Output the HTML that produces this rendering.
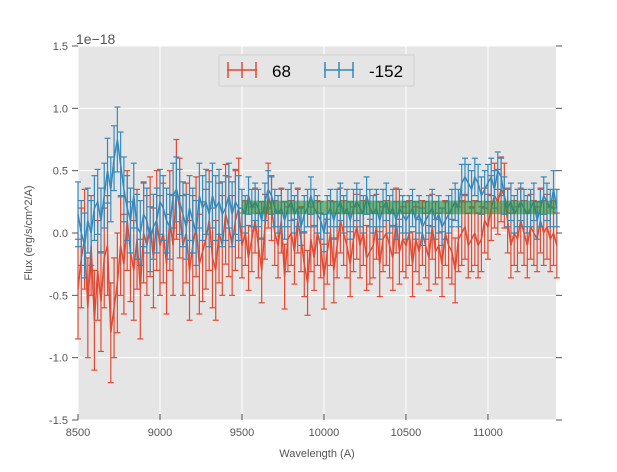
<!DOCTYPE html>
<html><head><meta charset="utf-8"><style>
body{margin:0;background:#fff;font-family:"Liberation Sans","DejaVu Sans",sans-serif}
svg text{font-family:"Liberation Sans","DejaVu Sans",sans-serif}
</style></head><body>
<svg id="chart" width="617" height="467" xmlns="http://www.w3.org/2000/svg">
<rect x="0" y="0" width="617" height="467" fill="#fff"/>
<rect x="78" y="46" width="478" height="374" fill="#e5e5e5"/>
<g id="grid"></g><g id="band"></g><g id="series"></g><g id="axes"></g>
<text x="76" y="44" font-size="14" fill="#555">1e−18</text>
<text x="317" y="457" font-size="11" fill="#555" text-anchor="middle">Wavelength (A)</text>
<text transform="translate(32,233) rotate(-90)" font-size="11" fill="#555" text-anchor="middle">Flux (erg/s/cm^2/A)</text>
<g>
<rect x="219" y="55" width="195" height="31" fill="#e5e5e5" stroke="#ccc" stroke-width="0.8"/>
<g>
<line x1="227" y1="70" x2="257" y2="70" stroke="#e24a33" stroke-width="1.5"/>
<line x1="242" y1="62" x2="242" y2="78" stroke="#e24a33" stroke-width="1.5"/>
<line x1="228" y1="62" x2="228" y2="78" stroke="#e24a33" stroke-width="1.5"/>
<line x1="256" y1="62" x2="256" y2="78" stroke="#e24a33" stroke-width="1.5"/>
<text x="272" y="77" font-size="17" fill="#000">68</text></g>
<g>
<line x1="324" y1="70" x2="354" y2="70" stroke="#348abd" stroke-width="1.5"/>
<line x1="339" y1="62" x2="339" y2="78" stroke="#348abd" stroke-width="1.5"/>
<line x1="325" y1="62" x2="325" y2="78" stroke="#348abd" stroke-width="1.5"/>
<line x1="353" y1="62" x2="353" y2="78" stroke="#348abd" stroke-width="1.5"/>
<text x="369" y="77" font-size="17" fill="#000">-152</text></g>
</g>
</svg>
<script>
const xTicks=[8500,9000,9500,10000,10500,11000];
const yTicks=[-1.5,-1.0,-0.5,0.0,0.5,1.0,1.5];
const startWave=8500, stepWave=20;
const red=[-0.45,-0.2,-0.05,-0.6,-0.1,-0.7,-0.3,-0.55,-0.2,-0.1,-0.8,-0.6,-0.4,
-0.1,-0.25,0.1,-0.15,-0.3,-0.05,-0.45,0.0,-0.1,0.05,-0.2,0.1,
-0.1,0.0,-0.25,0.1,-0.1,0.35,0.2,-0.1,0.0,-0.3,-0.1,0.05,-0.25,-0.15,-0.05,0.1,-0.2,-0.3,0.0,-0.1,0.15,0.05,-0.1,0.1,0.2,
-0.1,0.0,-0.2,-0.05,0.1,-0.1,-0.3,0.05,0.3,0.2,0.0,-0.1,0.1,-0.35,-0.05,0.0,-0.15,0.1,-0.05,-0.25,-0.4,-0.05,-0.2,0.0,-0.1,
-0.35,-0.15,0.0,-0.3,-0.1,0.1,0.0,-0.1,-0.25,-0.05,0.05,-0.1,0.0,-0.2,-0.15,-0.1,0.05,-0.25,-0.05,0.0,-0.1,-0.2,0.1,-0.15,-0.05,
-0.1,0.0,-0.25,-0.05,-0.15,0.0,-0.1,-0.2,0.05,-0.15,-0.1,-0.25,0.0,-0.1,-0.15,-0.3,-0.05,0.0,0.05,-0.1,-0.05,0.0,-0.1,-0.05,0.1,
0.05,0.2,0.3,0.25,0.35,0.3,0.1,-0.1,0.0,-0.05,0.1,0.0,-0.1,0.05,0.0,-0.05,0.1,0.0,0.05,-0.05,0.0,-0.1,0.05,0.0];
const blue=[0.15,0.0,-0.1,0.1,0.0,0.2,0.25,0.1,0.3,0.5,0.35,0.6,0.75,
0.55,0.35,0.2,0.1,0.3,0.05,0.0,0.15,0.1,-0.05,0.05,0.1,
0.25,0.2,0.1,0.05,0.3,0.35,0.25,0.15,0.05,0.2,0.1,0.0,0.3,0.2,0.25,0.15,0.3,0.2,0.25,0.15,0.2,0.3,0.15,0.25,0.2,
0.2,0.15,0.3,0.2,0.25,0.2,0.1,0.25,0.35,0.3,0.2,0.15,0.2,0.1,0.2,0.25,0.15,0.2,0.05,0.15,0.2,0.3,0.2,0.15,0.1,
0.0,0.15,0.2,0.1,0.2,0.25,0.15,0.2,0.1,0.2,0.25,0.2,0.15,0.3,0.2,0.15,0.2,0.1,0.2,0.25,0.15,0.2,0.1,0.2,0.15,
0.1,0.15,0.2,0.1,0.15,0.05,0.1,0.15,0.2,0.1,0.15,0.05,0.1,0.15,0.2,0.25,0.2,0.4,0.45,0.4,0.35,0.45,0.4,0.3,0.35,
0.4,0.45,0.35,0.5,0.45,0.3,0.2,0.25,0.15,0.2,0.25,0.2,0.15,0.2,0.25,0.1,0.2,0.3,0.25,0.2,0.35,0.2,0.3,0.25];
const redErrEarly=0.4, redErrLate=0.26, blueErrEarly=0.26, blueErrLate=0.15;
const errSplitWave=9500;
const band=[9500,11420,0.15,0.26];
const X0=8500,X1=11415,Y0=-1.5,Y1=1.5;
const sx=v=>78+(v-X0)/(X1-X0)*478;
const sy=v=>420-(v-Y0)/(Y1-Y0)*374;
const NS="http://www.w3.org/2000/svg";
function mk(t,a,p){const e=document.createElementNS(NS,t);for(const k in a)e.setAttribute(k,a[k]);p.appendChild(e);return e;}
const grid=document.getElementById('grid'),axes=document.getElementById('axes');
xTicks.forEach(t=>{const x=sx(t);
 const g=mk('line',{x1:x,x2:x,y1:46,y2:420,stroke:'#fff','stroke-width':1},grid);
 
 
 mk('line',{x1:x,x2:x,y1:420,y2:414,stroke:'#555'},axes);
 const l=mk('text',{x:x,y:436,'font-size':11,fill:'#555','text-anchor':'middle'},axes);l.textContent=t;
 
 });
yTicks.forEach(t=>{const y=sy(t);
 const g=mk('line',{x1:78,x2:556,y1:y,y2:y,stroke:'#fff','stroke-width':1},grid);
 
 
 mk('line',{x1:556,x2:562,y1:y,y2:y,stroke:'#555'},axes);
 mk('line',{x1:72,x2:78,y1:y,y2:y,stroke:'#555'},axes);
 const l=mk('text',{x:68,y:y+4,'font-size':11,fill:'#555','text-anchor':'end'},axes);l.textContent=t.toFixed(1);
 
 });
const ser=document.getElementById('series');
function draw(vals,eE,eL,col,name){
 const g=mk('g',{},ser);
 
 
 let d='';
 vals.forEach((v,i)=>{const w=startWave+i*stepWave;const x=sx(w);if(x>557)return;const e=w<errSplitWave?eE:eL;
  mk('line',{x1:x,x2:x,y1:sy(v-e),y2:sy(v+e),stroke:col,'stroke-width':1.2},g);
  mk('line',{x1:x-3,x2:x+3,y1:sy(v-e),y2:sy(v-e),stroke:col,'stroke-width':1.2},g);
  mk('line',{x1:x-3,x2:x+3,y1:sy(v+e),y2:sy(v+e),stroke:col,'stroke-width':1.2},g);
  d+=(d?'L':'M')+x.toFixed(1)+','+sy(v).toFixed(1);});
 mk('path',{d:d,fill:'none',stroke:col,'stroke-width':1.5},g);
}
draw(red,redErrEarly,redErrLate,'#e24a33','series-68');
draw(blue,blueErrEarly,blueErrLate,'#348abd','series-minus-152');
const b=mk('rect',{x:sx(band[0]),y:sy(band[3]),width:556-sx(band[0]),height:sy(band[2])-sy(band[3]),fill:'#2e8b3a','fill-opacity':0.6},document.getElementById('band'));


document.getElementById('chart').appendChild(document.getElementById('band'));
</script>
</body></html>
